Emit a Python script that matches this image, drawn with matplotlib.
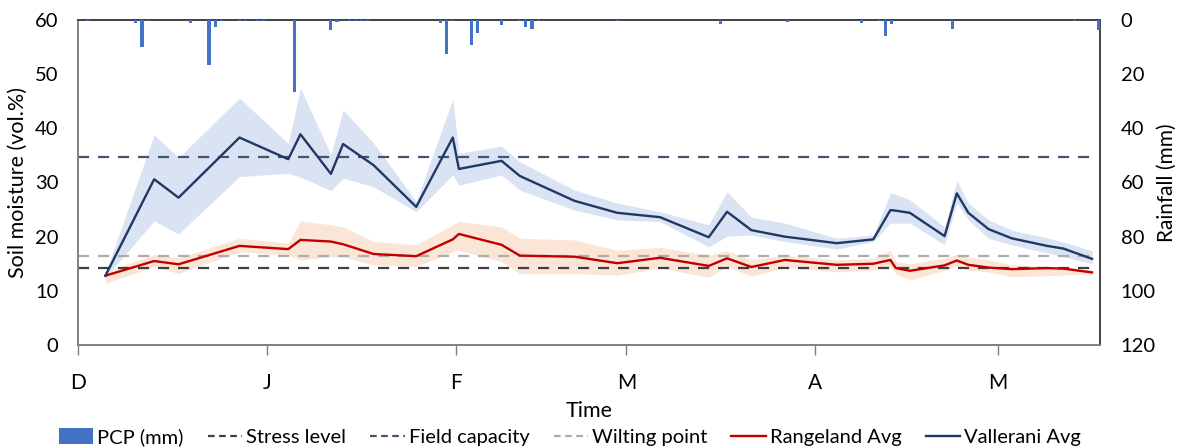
import matplotlib
matplotlib.use("Agg")
import matplotlib.pyplot as plt
from matplotlib.patches import Patch
from matplotlib.lines import Line2D

plt.rcParams['font.family'] = ['Lato', 'DejaVu Sans']

# ---- data -------------------------------------------------------------
# days since 1 December
days = [4.5, 12.5, 16.5, 26.5, 34.5, 36.5, 41.5, 43.5, 48.5, 55.5, 61.5, 62.5,
        69.5, 72.5, 81.5, 88.5, 95.5, 103.5, 106.5, 110.5, 116, 124.5, 130.5,
        133.3, 134.2, 136.5, 142.2, 144.2, 146.1, 149.4, 153.2, 159, 161.7, 166.4]

vallerani_avg = [12.8, 30.6, 27.2, 38.3, 34.3, 38.9, 31.6, 37.1, 33.2, 25.5, 38.3, 32.5,
                 34.0, 31.2, 26.6, 24.4, 23.6, 19.9, 24.6, 21.2, 20.0, 18.8, 19.5,
                 24.9, 24.8, 24.4, 20.1, 28.0, 24.4, 21.4, 19.7, 18.3, 17.8, 15.9]
vallerani_max = [13.3, 38.8, 34.6, 45.6, 37.2, 47.4, 35.1, 43.4, 37.3, 26.5, 45.4, 35.4,
                 36.7, 33.8, 28.6, 26.2, 24.6, 22.2, 28.3, 23.6, 22.5, 19.7, 20.3,
                 28.0, 27.8, 26.8, 21.8, 30.3, 26.2, 23.1, 21.2, 19.8, 19.0, 17.4]
vallerani_min = [12.5, 22.9, 20.5, 31.1, 31.7, 31.0, 28.5, 30.8, 29.2, 24.6, 31.4, 29.5,
                 31.4, 28.6, 24.9, 23.1, 22.8, 18.1, 20.1, 20.3, 19.1, 17.7, 19.1,
                 22.5, 22.5, 22.5, 18.5, 26.2, 23.1, 19.7, 18.5, 17.0, 16.3, 15.0]

rangeland_avg = [12.8, 15.5, 14.9, 18.3, 17.7, 19.4, 19.1, 18.6, 16.8, 16.4, 19.5, 20.5,
                 18.5, 16.5, 16.3, 15.1, 16.1, 14.6, 16.0, 14.4, 15.7, 14.8, 15.0,
                 15.7, 14.2, 13.7, 14.7, 15.6, 14.8, 14.3, 14.0, 14.2, 14.1, 13.4]
rangeland_max = [13.5, 16.7, 16.1, 19.7, 18.8, 22.9, 22.2, 21.8, 19.1, 18.5, 22.2, 22.8,
                 21.8, 19.7, 19.4, 17.5, 18.0, 16.6, 17.4, 15.7, 16.6, 15.7, 16.0,
                 17.5, 15.4, 15.0, 16.0, 16.8, 16.2, 15.7, 14.8, 14.5, 14.3, 13.8]
rangeland_min = [11.4, 14.5, 13.2, 17.2, 16.6, 15.7, 16.3, 16.3, 14.8, 14.5, 17.2, 17.5,
                 15.4, 13.2, 13.2, 12.9, 14.2, 12.5, 14.5, 12.7, 14.3, 13.5, 13.8,
                 14.5, 13.2, 12.0, 13.8, 14.5, 13.8, 13.5, 12.6, 12.8, 12.9, 13.1]

# daily precipitation (day since 1 Dec, mm)
rain_days = [1, 9, 10, 11, 18, 21, 22, 23, 26, 27, 29, 30, 35, 41, 42, 44, 45, 46, 47,
             59, 60, 61, 64, 65, 69, 72, 73, 74, 75, 88, 105, 116, 128, 131, 132, 133,
             143, 163, 167]
rain_mm = [0.3, 1.0, 9.8, 0.5, 1.0, 16.6, 2.7, 0.5, 0.3, 0.3, 0.3, 0.5, 26.5, 3.8, 0.6,
           0.3, 0.5, 0.3, 0.3, 1.0, 12.7, 0.5, 9.2, 4.9, 1.8, 0.5, 2.5, 3.3, 0.5, 0.5,
           1.6, 0.6, 1.0, 0.5, 5.8, 1.6, 3.3, 0.4, 3.6]

field_capacity = 34.7
wilting_point = 16.4
stress_level = 14.2

month_ticks = [0, 31, 62, 90, 121, 151]
month_labels = ['D', 'J', 'F', 'M', 'A', 'M']

# ---- figure -----------------------------------------------------------
fig = plt.figure(figsize=(11.8, 4.48), dpi=100)
ax = fig.add_axes([0.0661, 0.2299, 0.8661, 0.7255])

c_v = '#203864'
c_vb = '#DAE3F3'
c_r = '#C00000'
c_rb = '#FBE5D6'

ax.fill_between(days, vallerani_min, vallerani_max, color=c_vb, lw=0, zorder=1)
ax.fill_between(days, rangeland_min, rangeland_max, color=c_rb, lw=0, zorder=1)

line_x = [0, days[-1]]
ax.plot(line_x, [field_capacity] * 2, ls=(0, (5, 4)), color='#44546A', lw=1.6, zorder=2)
ax.plot(line_x, [wilting_point] * 2, ls=(0, (5, 4)), color='#AFABAB', lw=1.6, zorder=2)
ax.plot(line_x, [stress_level] * 2, ls=(0, (5, 4)), color='#404040', lw=1.6, zorder=2)

ax.plot(days, rangeland_avg, color=c_r, lw=1.7, zorder=3)
ax.plot(days, vallerani_avg, color=c_v, lw=1.7, zorder=3)

ax.set_xlim(0, 167.7)
ax.set_ylim(0, 60)
ax.set_yticks(range(0, 61, 10))
ax.set_xticks(month_ticks)
ax.set_xticklabels(month_labels)
ax.tick_params(axis='x', direction='out', length=7, width=1, color='#808080',
               pad=13, labelsize=15, colors='#000000')
ax.tick_params(axis='x', color='#808080')
ax.tick_params(axis='y', length=0, pad=14, labelsize=14.5)
ax.set_ylabel('Soil moisture (vol.%)', fontsize=15.5, labelpad=5)
ax.set_xlabel('Time', fontsize=15.5, labelpad=6)

ax.spines['left'].set_color('#808080')
ax.spines['bottom'].set_color('#808080')
ax.spines['top'].set_color('#404040')
ax.spines['right'].set_color('#404040')
for s in ax.spines.values():
    s.set_linewidth(1.2)

ax2 = ax.twinx()
ax2.bar([d + 0.5 for d in rain_days], rain_mm, width=0.5, color='#4472C4', zorder=4)
ax2.set_ylim(120, 0)
ax2.set_yticks(range(0, 121, 20))
ax2.tick_params(axis='y', length=0, pad=15, labelsize=14.5)
ax2.set_ylabel('Rainfall (mm)', fontsize=15, labelpad=1)
ax2.spines['top'].set_color('#404040')
ax2.spines['right'].set_color('#404040')
ax2.spines['left'].set_color('#808080')
ax2.spines['bottom'].set_color('#808080')
for s in ax2.spines.values():
    s.set_linewidth(1.2)

handles = [
    Patch(facecolor='#4472C4', edgecolor='none'),
    Line2D([], [], color='#404040', ls=(0, (3, 2)), lw=1.6),
    Line2D([], [], color='#44546A', ls=(0, (3, 2)), lw=1.6),
    Line2D([], [], color='#AFABAB', ls=(0, (3, 2)), lw=1.6),
    Line2D([], [], color=c_r, lw=1.7),
    Line2D([], [], color=c_v, lw=1.7),
]
labels = ['PCP (mm)', 'Stress level', 'Field capacity', 'Wilting point',
          'Rangeland Avg', 'Vallerani Avg']
fig.legend(handles, labels, loc='center', ncol=6, frameon=False,
           bbox_to_anchor=(0.483, 0.024), fontsize=14.5, handlelength=1.7,
           handletextpad=0.2, columnspacing=1.2, handleheight=0.8,
           borderaxespad=0, borderpad=0)

fig.savefig('out.png', dpi=100)
